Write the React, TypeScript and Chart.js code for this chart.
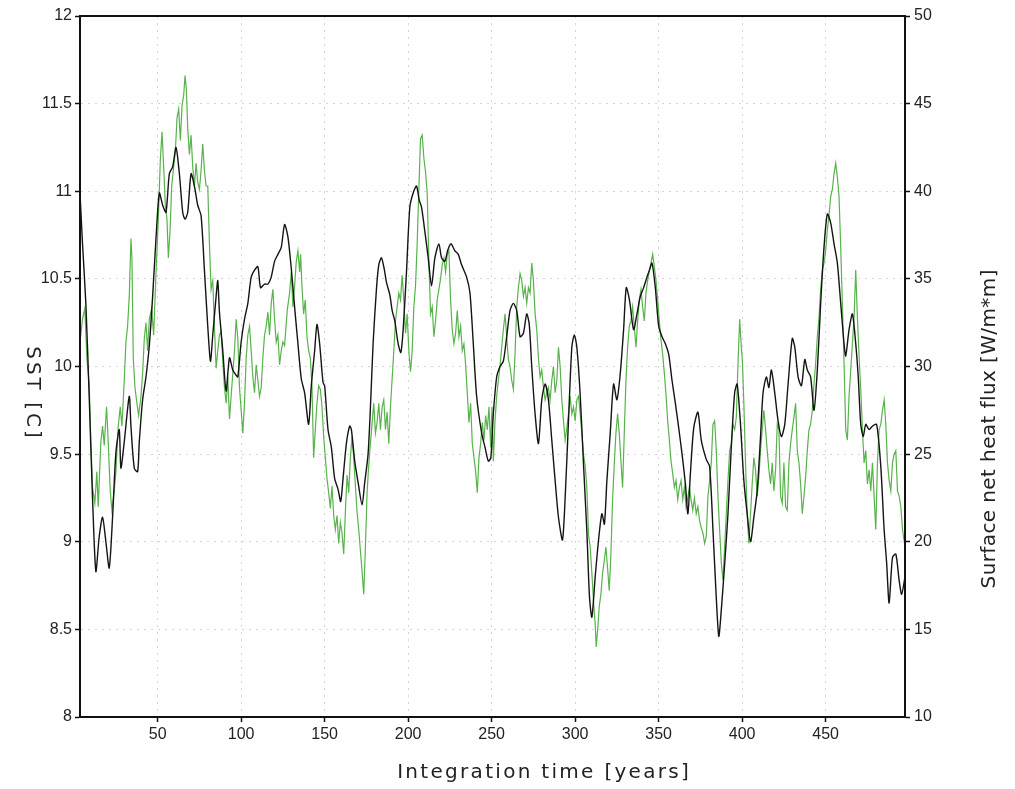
import React, { useEffect, useRef } from "react";
import { Chart, registerables } from "chart.js";

Chart.register(...registerables);

const xTickValues = [50, 100, 150, 200, 250, 300, 350, 400, 450];

const sstYears = [3.5, 5, 7, 9, 11, 13, 15, 17, 19, 21, 23, 25, 27, 28, 30, 33, 34, 36, 38, 39, 41, 43, 45, 47, 49, 51, 53, 55, 57, 59, 61, 63, 65, 66.4, 68, 70, 72, 74, 76, 78, 80, 81.6, 83, 85, 86, 87, 89, 91, 93, 95, 97, 98, 100, 102, 104, 106, 108, 110, 111.6, 114, 116, 118, 120, 122, 124, 126, 128, 130, 132, 134, 136, 138, 140.4, 142, 144, 145.4, 147, 149, 150, 152, 154, 156, 158, 159.6, 161, 163, 165, 166, 168, 170, 172.4, 174, 176, 177.6, 179, 181, 182.4, 184, 185.6, 187, 189, 190.4, 192, 194, 195.6, 197, 199, 201, 203, 205, 206.6, 208, 210, 212, 214, 216, 218.4, 220, 222, 223.6, 225.6, 228, 230, 232, 235, 237, 239, 241, 244, 246, 248, 249.5, 251, 253, 255, 257, 259, 261, 263, 265, 267, 269, 271, 272.5, 274, 276, 278, 280, 282, 284, 286, 288, 290, 292.4, 294, 296, 298, 299.5, 301, 303, 305, 307, 308.6, 310, 312, 314, 316, 317.5, 319, 321, 323, 325, 327, 329, 330.6, 332.5, 335, 337, 339, 341, 343, 344.5, 346, 348, 350, 352, 354, 356, 358, 360, 362, 364, 366, 367.5, 369, 371, 373.5, 375.5, 378.5, 380.5, 382.5, 384.5, 386, 387.5, 389.5, 391.5, 393.5, 395.5, 397, 399, 401, 403, 405, 407, 409, 411, 412.5, 414.5, 416, 417.5, 419.5, 421.5, 423.5, 425.5, 427.5, 430, 431.5, 433.5, 435.5, 437.5, 439, 441, 443, 445, 447, 449, 451, 453, 455, 457, 459, 461, 462, 464, 466, 468, 469.5, 471, 472.5, 474, 476, 478, 480.5, 483, 485, 486.5, 488, 490, 492, 494, 495.5, 497.5];

const sstValues = [10.99, 10.7, 10.36, 9.83, 9.25, 8.83, 9.03, 9.14, 9.0, 8.85, 9.14, 9.51, 9.64, 9.42, 9.57, 9.83, 9.66, 9.42, 9.4, 9.57, 9.81, 9.94, 10.12, 10.4, 10.73, 10.99, 10.92, 10.88, 11.1, 11.14, 11.25, 11.1, 10.88, 10.84, 10.88, 11.1, 11.03, 10.92, 10.86, 10.55, 10.23, 10.03, 10.18, 10.4, 10.49, 10.31, 10.09, 9.86, 10.05, 9.98, 9.95, 9.94, 10.14, 10.27, 10.36, 10.51, 10.55, 10.57, 10.45, 10.47, 10.47, 10.51, 10.6, 10.64, 10.68, 10.81, 10.74, 10.56, 10.34, 10.13, 9.93, 9.85, 9.67, 9.89, 10.09, 10.24, 10.13, 9.91, 9.89, 9.64, 9.54, 9.36, 9.3, 9.23, 9.36, 9.56, 9.66, 9.64, 9.46, 9.34, 9.21, 9.34, 9.5, 9.81, 10.13, 10.44, 10.58, 10.62, 10.56, 10.48, 10.41, 10.32, 10.26, 10.13, 10.08, 10.21, 10.54, 10.91, 10.99, 11.03, 10.95, 10.91, 10.77, 10.62, 10.46, 10.62, 10.7, 10.62, 10.6, 10.66, 10.7, 10.66, 10.64, 10.58, 10.51, 10.42, 10.13, 9.83, 9.62, 9.54, 9.46, 9.48, 9.73, 9.94, 10.0, 10.03, 10.17, 10.32, 10.36, 10.32, 10.17, 10.19, 10.3, 10.24, 10.0, 9.73, 9.56, 9.81, 9.9, 9.81, 9.58, 9.35, 9.14, 9.01, 9.25, 9.69, 10.11, 10.18, 10.11, 9.84, 9.44, 9.06, 8.68, 8.57, 8.8, 9.01, 9.16, 9.1, 9.35, 9.62, 9.9, 9.81, 9.96, 10.21, 10.45, 10.38, 10.21, 10.3, 10.4, 10.45, 10.51, 10.55, 10.59, 10.45, 10.23, 10.17, 10.13, 10.07, 9.92, 9.79, 9.65, 9.5, 9.33, 9.16, 9.39, 9.65, 9.74, 9.58, 9.47, 9.43, 9.07, 8.68, 8.46, 8.61, 8.87, 9.16, 9.54, 9.85, 9.9, 9.67, 9.35, 9.16, 9.0, 9.14, 9.29, 9.6, 9.85, 9.94, 9.88, 9.98, 9.85, 9.69, 9.6, 9.67, 9.9, 10.16, 10.11, 9.94, 9.89, 10.04, 9.98, 9.94, 9.75, 9.98, 10.36, 10.68, 10.87, 10.82, 10.7, 10.59, 10.36, 10.13, 10.06, 10.21, 10.3, 10.13, 9.94, 9.67, 9.6, 9.67, 9.64, 9.66, 9.67, 9.43, 9.07, 8.88, 8.65, 8.91, 8.93, 8.78, 8.7, 8.8];

const fluxYears = [3.5, 5, 6.4, 7.6, 9, 10, 11, 12.4, 13.6, 14.4, 16, 17, 18, 19.4, 20.4, 21.6, 22.6, 24, 25, 26.4, 27.6, 28.6, 30, 31, 32, 33, 34, 34.6, 35.4, 36.4, 37.6, 38.6, 40, 41, 42, 43, 44, 45, 46.4, 47.6, 49, 50.4, 51.6, 52.6, 53.6, 54.6, 55.6, 56.4, 57.4, 58.4, 59.6, 60.6, 61.6, 62.6, 63.6, 64.6, 65.6, 66.4, 67.2, 68, 69, 70, 71, 72, 73, 74, 75, 76, 77, 78, 79, 80, 81, 82, 83, 84, 85, 86, 87, 88, 89, 90, 91, 92, 93, 94, 95, 96, 97, 98, 99, 100, 101, 102, 103, 104, 105, 106, 107, 108, 109, 110, 111, 112, 113, 114, 115, 116, 117, 118, 119, 120, 121, 122, 123, 124, 125, 126, 127.6, 129, 130, 131, 132, 133, 134, 135, 135.6, 136.4, 137.4, 138.4, 139.4, 140.4, 141.4, 142.4, 143.4, 144.4, 145.4, 146.4, 147.4, 148.4, 149.4, 150.4, 151.4, 152.4, 153.4, 154.4, 155.4, 156.4, 157.4, 158.4, 159.4, 160.4, 161.4, 162.4, 163.4, 164.4, 165.4, 166.4, 167.4, 168.4, 169.4, 170.4, 171.4, 172.4, 173.4, 174.4, 175.4, 176.4, 177.4, 178.4, 179.4, 180.4, 181.4, 182.4, 183.4, 184.4, 185.4, 186.4, 187.4, 188.4, 189.4, 190.4, 191.4, 192.4, 193.4, 194.4, 195.4, 196.4, 197.4, 198.4, 199.4, 200.4, 201.4, 202.4, 203.4, 204.4, 205.4, 206.4, 207.4, 208.4, 209.4, 210.4, 211.4, 212.4, 213.4, 214.4, 215.4, 216.4, 217.4, 218.4, 219.4, 220.4, 221.4, 222.4, 223.4, 224.4, 225.4, 226.4, 227.4, 228.4, 229.4, 230.4, 231.4, 232.4, 233.4, 234.4, 235.4, 236.4, 237.4, 238.4, 239.4, 240.4, 241.4, 242.4, 243.4, 244.4, 245.4, 246.4, 247.4, 248.4, 249.4, 250.2, 251, 252, 253, 254, 255, 256, 257, 258, 259, 260, 261, 262, 263, 264, 265, 266, 267, 268, 269, 270, 271, 272, 273, 274, 275, 276, 277, 278, 279, 280, 281, 282, 283, 284, 285, 286, 287, 288, 289, 290, 291, 292, 293, 294, 295, 296, 297, 298, 299, 300, 301, 302, 303, 304, 305, 306, 307, 308, 309, 310, 311, 312, 312.6, 313.4, 314.4, 315.4, 316.4, 317.4, 318.4, 319.4, 320.4, 321.4, 322.4, 323.4, 324.4, 325.4, 326.4, 327.4, 328.4, 329.4, 330.4, 331.4, 332.4, 333.4, 334.4, 335.4, 336.4, 337.4, 338.4, 339.4, 340.4, 341.4, 342.4, 343.4, 344.4, 345.4, 346.4, 347.4, 348.4, 349.4, 350.4, 351.4, 352.4, 353.4, 354.4, 355.4, 356.4, 357.4, 358.4, 359.4, 360.4, 361.4, 362.4, 363.4, 364.4, 365.4, 366.4, 367.4, 368.4, 369.4, 370.4, 371.4, 372.5, 373.5, 374.5, 375.5, 376.5, 377.5, 378.5, 379.5, 380.5, 381.5, 382.5, 383.5, 384.5, 385.5, 386.5, 387.5, 388.5, 389.5, 390.5, 391.5, 392.5, 393.5, 394.5, 395.5, 396.5, 397.5, 398.5, 399.5, 400.2, 401, 402, 403, 404, 405, 406, 407, 408, 409, 410, 411, 412, 413, 414, 415, 416, 417, 418, 419, 420, 421, 422, 423, 424, 425, 426, 427, 428, 429, 430, 431, 432, 433, 434, 435, 436, 437, 438, 439, 440, 441, 442, 443, 444, 445, 446, 447, 448, 449, 450, 451, 452, 453, 454, 455, 456, 457, 458, 459, 460, 461, 462, 463, 464, 465, 466, 467, 468, 469, 470, 471, 472, 473, 474, 475, 476, 477, 478, 479, 480, 481, 482, 483, 484, 485, 486, 487, 488, 489, 490, 491, 492, 493, 494, 495, 496, 497.5];

const fluxValues = [31.4, 32.7, 33.3, 30.5, 29.0, 25.7, 23.1, 22.2, 24.0, 22.0, 25.7, 26.6, 25.5, 27.7, 25.7, 22.9, 21.8, 22.9, 24.0, 26.6, 27.7, 26.6, 29.2, 31.4, 32.3, 34.0, 37.3, 36.2, 30.5, 28.8, 27.9, 27.2, 28.3, 29.6, 31.6, 32.5, 30.9, 32.7, 33.3, 31.8, 35.3, 38.4, 41.8, 43.4, 41.4, 39.2, 38.4, 36.2, 37.7, 40.3, 41.4, 42.3, 44.2, 44.7, 42.9, 44.9, 45.5, 46.6, 45.8, 43.6, 42.1, 43.2, 41.4, 40.3, 41.6, 40.5, 40.1, 41.2, 42.7, 41.2, 40.3, 40.3, 37.0, 34.4, 34.9, 32.3, 29.9, 30.9, 31.8, 32.0, 30.3, 28.8, 27.9, 29.4, 27.0, 28.3, 29.6, 30.9, 32.7, 31.6, 28.8, 27.5, 26.2, 27.9, 30.5, 31.8, 32.3, 30.9, 29.4, 28.5, 30.1, 29.2, 28.3, 28.8, 30.5, 31.8, 32.3, 33.1, 31.8, 33.6, 34.4, 32.7, 31.4, 31.8, 30.1, 30.9, 31.4, 31.2, 33.2, 34.2, 35.4, 33.4, 34.6, 36.0, 36.6, 35.4, 36.4, 34.6, 33.0, 33.8, 31.7, 30.9, 30.5, 28.9, 24.8, 26.4, 27.9, 28.9, 28.7, 27.7, 26.0, 24.8, 23.6, 22.8, 21.9, 23.2, 21.5, 20.7, 21.5, 19.9, 21.1, 20.5, 19.3, 21.7, 23.8, 22.8, 24.8, 26.0, 24.8, 23.2, 21.7, 20.7, 19.5, 18.3, 17.0, 19.7, 22.8, 24.4, 25.6, 26.8, 27.9, 26.2, 26.8, 27.9, 26.4, 27.7, 28.1, 26.4, 27.4, 25.6, 27.7, 29.3, 30.9, 32.6, 33.4, 34.2, 33.8, 35.2, 33.8, 31.9, 33.0, 30.9, 29.7, 30.9, 33.4, 34.6, 37.0, 40.1, 43.0, 43.2, 41.9, 41.1, 39.9, 36.0, 33.0, 33.4, 31.7, 32.6, 33.8, 34.4, 35.0, 35.8, 36.2, 35.4, 36.4, 36.6, 33.8, 32.1, 31.3, 31.9, 33.2, 31.7, 32.3, 30.9, 31.3, 30.1, 28.5, 26.8, 27.9, 25.6, 24.8, 24.0, 22.8, 24.8, 25.6, 26.8, 25.8, 27.2, 26.4, 27.7, 25.4, 27.7, 24.6, 26.9, 28.3, 29.2, 30.0, 31.1, 32.1, 33.0, 31.7, 30.4, 30.0, 29.2, 28.7, 30.7, 33.4, 34.5, 35.3, 34.9, 34.0, 34.5, 33.6, 34.5, 34.2, 35.9, 34.9, 33.0, 32.1, 30.5, 29.4, 29.8, 28.8, 28.1, 28.5, 28.8, 28.1, 29.2, 30.0, 28.5, 29.2, 31.1, 30.0, 28.1, 26.9, 25.8, 26.5, 27.3, 28.3, 27.3, 27.7, 26.9, 28.1, 28.3, 27.3, 26.2, 25.0, 24.3, 23.1, 20.4, 19.7, 18.2, 16.6, 15.3, 14.0, 14.9, 16.3, 17.0, 18.2, 18.9, 19.7, 18.5, 17.2, 19.3, 22.4, 24.4, 26.2, 27.3, 26.2, 24.6, 23.1, 26.2, 29.2, 31.1, 32.3, 32.6, 33.4, 32.3, 31.1, 32.6, 33.8, 34.4, 33.4, 32.6, 34.2, 34.9, 35.5, 35.9, 36.4, 35.7, 34.9, 33.8, 32.6, 31.5, 30.7, 29.6, 28.4, 26.9, 25.8, 24.6, 23.9, 23.1, 23.5, 22.4, 23.1, 23.5, 22.4, 23.1, 22.0, 22.5, 23.1, 22.4, 21.8, 22.5, 21.6, 22.0, 21.2, 20.8, 20.5, 19.9, 20.3, 22.6, 23.5, 24.5, 26.7, 26.9, 25.2, 22.6, 20.7, 18.8, 17.8, 19.7, 21.6, 23.5, 25.2, 25.6, 26.7, 26.4, 27.1, 30.2, 32.7, 31.1, 30.2, 27.9, 24.5, 21.6, 19.9, 21.6, 23.3, 24.8, 24.1, 22.6, 23.7, 25.2, 26.4, 27.5, 26.4, 25.2, 24.1, 23.3, 24.5, 22.9, 24.1, 26.7, 26.4, 22.6, 22.2, 24.5, 22.0, 21.8, 24.5, 25.6, 26.4, 27.1, 27.9, 25.2, 24.5, 23.3, 21.6, 22.6, 23.7, 25.2, 26.4, 26.7, 27.5, 29.0, 30.2, 31.7, 32.8, 34.4, 35.5, 35.9, 36.6, 37.8, 38.6, 39.7, 40.1, 41.0, 41.6, 40.8, 39.7, 36.8, 33.6, 30.2, 26.4, 25.8, 28.3, 29.8, 31.3, 32.8, 35.5, 32.8, 30.6, 28.7, 26.4, 24.5, 25.2, 23.3, 24.1, 22.9, 24.5, 22.6, 20.7, 24.5, 26.4, 26.7, 27.5, 28.1, 26.7, 24.5, 23.5, 22.9, 24.5, 25.0, 25.2, 22.9, 22.6, 22.0, 20.7, 19.7];

const titleFont = "'DejaVu Sans', Verdana, sans-serif";
const tickFont = { family: "'Liberation Sans', Arial, sans-serif", size: 16 };

function drawTitle(ctx: any, text: string, x: number, y: number, rot: number, spacing: number) {
  ctx.save();
  ctx.translate(x, y);
  ctx.rotate(rot);
  try {
    ctx.letterSpacing = spacing + "px";
  } catch (e) {}
  ctx.fillText(text, spacing / 2, 0);
  ctx.restore();
}

const framePlugin = {
  id: "frameAndTitles",
  afterDraw(chart: any) {
    const { ctx, chartArea } = chart;
    const { left, top, right, bottom } = chartArea;
    ctx.save();
    ctx.strokeStyle = "#111";
    ctx.lineWidth = 2;
    ctx.strokeRect(left, top, right - left, bottom - top);
    ctx.fillStyle = "#222";
    ctx.font = `20px ${titleFont}`;
    ctx.textAlign = "center";
    ctx.textBaseline = "middle";
    drawTitle(ctx, "Integration time [years]", 543, 773, 0, 2.3);
    drawTitle(ctx, "SST [C]", 32, 392, Math.PI / 2, 3);
    drawTitle(ctx, "Surface net heat flux [W/m*m]", 990, 429, -Math.PI / 2, 0.4);
    ctx.restore();
  },
};

export default function App() {
  const ref = useRef<HTMLCanvasElement | null>(null);
  useEffect(() => {
    if (!ref.current) return;
    const sstData = sstYears.map((x, i) => ({ x, y: sstValues[i] }));
    const fluxData = fluxYears.map((x, i) => ({ x, y: fluxValues[i] }));
    const gridCommon = {
      color: "#d4d4d4",
      lineWidth: 1,
      drawTicks: true,
      tickLength: 5,
      tickColor: "#111",
      tickWidth: 1.5,
      tickBorderDash: [],
    };
    const plainLabel = (v: any) => String(Number(v));
    const chart = new Chart(ref.current, {
      type: "line",
      data: {
        datasets: [
          {
            label: "SST",
            data: sstData,
            yAxisID: "y",
            borderColor: "#141414",
            borderWidth: 1.4,
            pointRadius: 0,
            tension: 0.25,
          },
          {
            label: "Surface net heat flux",
            data: fluxData,
            yAxisID: "y1",
            borderColor: "#58b34c",
            borderWidth: 1.2,
            pointRadius: 0,
            tension: 0,
          },
        ],
      },
      options: {
        animation: false,
        responsive: false,
        devicePixelRatio: 1,
        layout: { padding: { top: 16, left: 0, right: 0, bottom: 0 } },
        plugins: {
          legend: { display: false },
          tooltip: { enabled: false },
        },
        scales: {
          x: {
            type: "linear",
            position: "bottom",
            min: 3.5,
            max: 497.5,
            afterBuildTicks: (s: any) => {
              s.ticks = xTickValues.map((v) => ({ value: v }));
            },
            afterFit: (s: any) => {
              s.height = 72;
            },
            grid: gridCommon,
            border: { display: true, color: "#111", width: 2, dash: [2, 5] },
            ticks: {
              font: tickFont,
              color: "#222",
              padding: 3,
              maxRotation: 0,
              autoSkip: false,
              callback: plainLabel,
            },
          },
          y: {
            type: "linear",
            position: "left",
            min: 8,
            max: 12,
            afterFit: (s: any) => {
              s.width = 80;
            },
            grid: gridCommon,
            border: { display: true, color: "#111", width: 2, dash: [2, 5] },
            ticks: { stepSize: 0.5, font: tickFont, color: "#222", padding: 3, callback: plainLabel },
          },
          y1: {
            type: "linear",
            position: "right",
            min: 10,
            max: 50,
            afterFit: (s: any) => {
              s.width = 110;
            },
            grid: { ...gridCommon, drawOnChartArea: false },
            border: { display: true, color: "#111", width: 2 },
            ticks: { stepSize: 5, font: tickFont, color: "#222", padding: 4, callback: plainLabel },
          },
        },
      },
      plugins: [framePlugin],
    } as any);
    return () => chart.destroy();
  }, []);
  return (
    <div style={{ position: "absolute", left: 0, top: 0, width: 1015, height: 789, background: "#fff" }}>
      <canvas ref={ref} width={1015} height={789} style={{ width: 1015, height: 789, display: "block" }} />
    </div>
  );
}
